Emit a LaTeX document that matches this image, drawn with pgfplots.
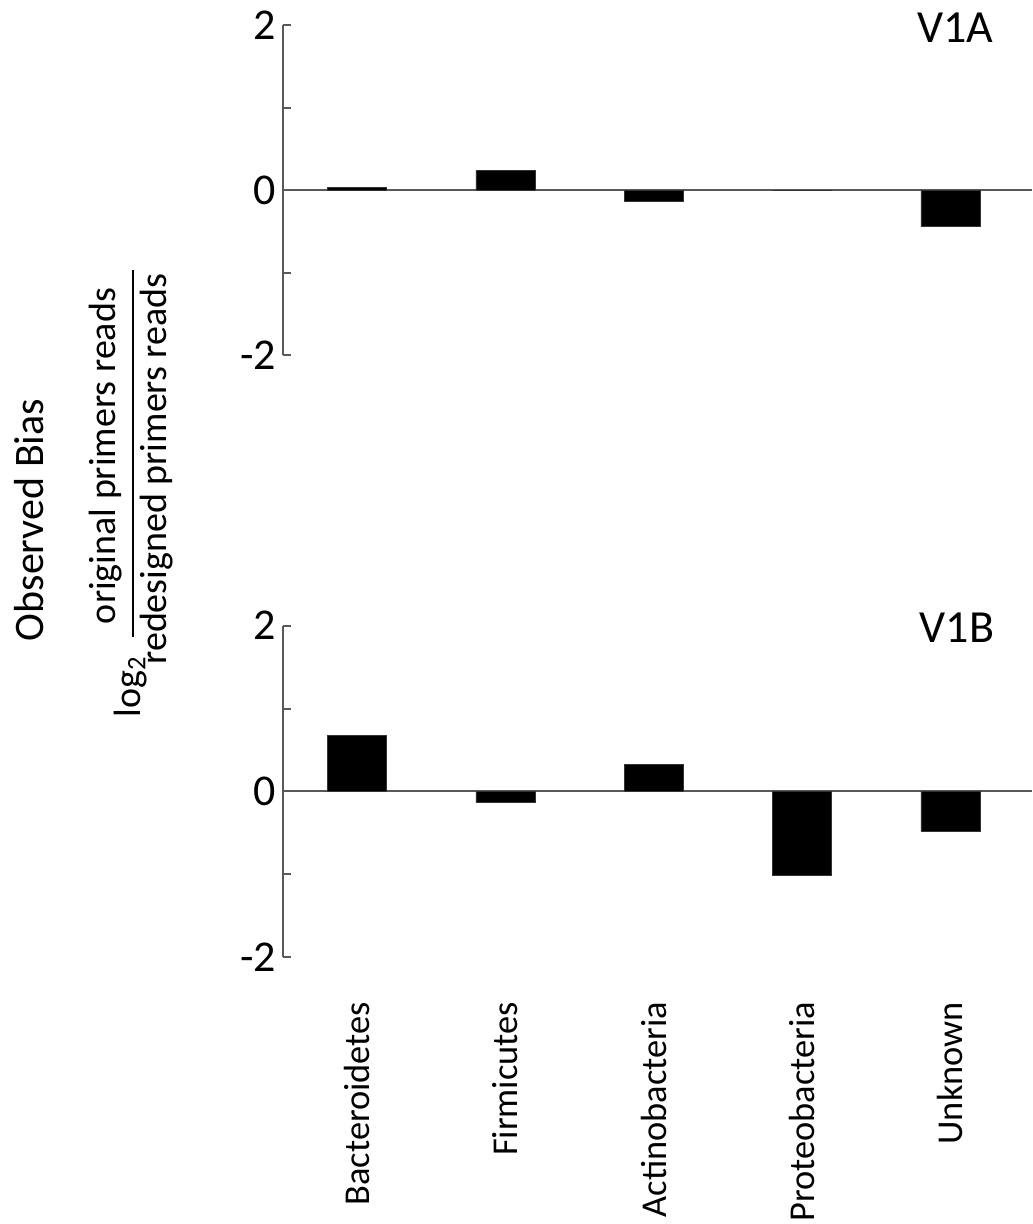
\documentclass[border=0pt]{standalone}
\usepackage{fontspec}
\setmainfont{Carlito}
\usepackage{pgfplots}
\usepackage{pgfplotstable}
\pgfplotsset{compat=1.18}

\pgfplotstableread{
x a b
0 0.03 0.68
1 0.24 -0.13
2 -0.13 0.33
3 0.0 -1.01
4 -0.44 -0.48
}\biasdata

\pgfplotsset{biasax/.style={
 scale only axis, width=374.5pt, xmin=-0.5, xmax=4.55, ymin=-2, ymax=2,
 axis lines=left, axis line style={-, draw=black!65, line width=1pt},
 x axis line style={draw=none},
 ytick={-2,-1,0,1,2}, yticklabels={-2,,0,,2},
 tick align=inside, major tick length=4pt,
 ytick style={draw=black!65, line width=1pt},
 xtick style={draw=none},
 tick label style={font=\fontsize{22}{26}\selectfont},
 clip=false,
}}

\begin{document}
\begin{tikzpicture}
\useasboundingbox (0,0) rectangle (516pt,612pt);

\begin{axis}[biasax, at={(141.5pt,434.35pt)}, anchor=south west, height=165pt, xtick=\empty]
\addplot[draw=black!65, line width=1pt, forget plot] coordinates {(-0.5,0) (4.55,0)};
\addplot[ybar, bar width=29.5pt, fill=black, draw=black!80, line width=0.4pt] table[x=x, y=a] {\biasdata};
\end{axis}

\begin{axis}[biasax, at={(141.5pt,133.5pt)}, anchor=south west, height=165.65pt,
 xtick={0,1,2,3,4}, xticklabels={Bacteroidetes,Firmicutes,Actinobacteria,Proteobacteria,Unknown},
 xticklabel style={rotate=90, anchor=east, font=\fontsize{18.2}{22}\selectfont},
 xticklabel shift=19pt]
\addplot[draw=black!65, line width=1pt, forget plot] coordinates {(-0.5,0) (4.55,0)};
\addplot[ybar, bar width=29.5pt, fill=black, draw=black!80, line width=0.4pt] table[x=x, y=b] {\biasdata};
\end{axis}

\begin{scope}[x=0.5pt, y=-0.5pt, yshift=612pt]
\node[anchor=base, inner sep=0pt, font=\fontsize{23}{27}\selectfont] at (955,43) {V1A};
\node[anchor=base, inner sep=0pt, font=\fontsize{23}{27}\selectfont] at (957,643) {V1B};
\node[rotate=90, anchor=base, inner sep=0pt, font=\fontsize{21}{25}\selectfont] at (43,520) {Observed Bias};
\node[rotate=90, anchor=base, inner sep=0pt, font=\fontsize{19}{23}\selectfont] at (115,456) {original primers reads};
\draw[line width=1pt] (133,270) -- (133,637);
\node[rotate=90, anchor=base, inner sep=0pt, font=\fontsize{19}{23}\selectfont] at (166,469) {redesigned primers reads};
\node[rotate=90, anchor=base west, inner sep=0pt, font=\fontsize{19}{23}\selectfont] at (140,718) {log\textsubscript{2}};
\end{scope}
\end{tikzpicture}
\end{document}
